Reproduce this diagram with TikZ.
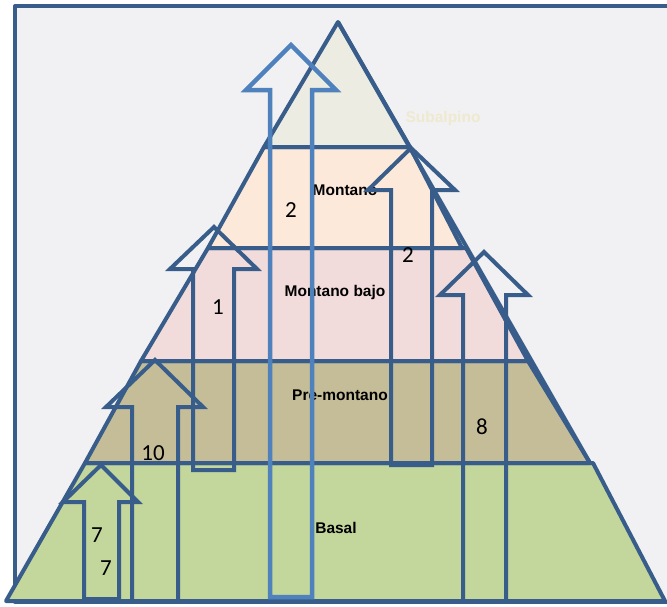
\documentclass[tikz,border=0pt]{standalone}
\usepackage{fontspec}
\setmainfont{Liberation Sans}
\newfontfamily\calibrifont{Carlito}
\usepackage{tikz}
\definecolor{pyrblue}{RGB}{56,93,138}
\definecolor{skyblue}{RGB}{79,129,189}
\definecolor{framebg}{RGB}{241,241,243}
\definecolor{subalpfill}{RGB}{236,236,226}
\definecolor{montfill}{RGB}{253,233,217}
\definecolor{bajofill}{RGB}{242,220,219}
\definecolor{premfill}{RGB}{196,189,151}
\definecolor{basalfill}{RGB}{195,214,155}
\definecolor{faintyellow}{RGB}{238,233,207}

\begin{document}
\begin{tikzpicture}[
    x=1pt, y=-1pt,
    layer/.style={draw=pyrblue, line width=4pt, line join=round},
    blockarrow/.style={draw=pyrblue, line width=4pt},
    tallarrow/.style={draw=skyblue, line width=4.5pt},
    zone/.style={font=\fontsize{15.5}{18}\selectfont\bfseries, inner sep=0pt},
    num/.style={font=\calibrifont\fontsize{23}{25}\selectfont, inner sep=0pt}
]
    \useasboundingbox (0,0) rectangle (667,606);
    \clip (0,0) rectangle (667,606);
    % frame
    \draw[layer, fill=framebg] (15,6) rectangle (700,602);

    % pyramid layers
    \draw[layer, fill=basalfill] (85,463) -- (593,463) -- (665,601) -- (6,601) -- cycle;
    \draw[layer, fill=premfill] (141,361) -- (528,361) -- (590,463) -- (85,463) -- cycle;
    \draw[layer, fill=bajofill] (208,248) -- (466,248) -- (528,361) -- (141,361) -- cycle;
    \draw[layer, fill=montfill] (264,147) -- (410,147) -- (462,248) -- (208,248) -- cycle;
    \draw[layer, fill=subalpfill] (338,22) -- (264,147) -- (410,147) -- cycle;
    \draw[layer] (338,22) -- (590,463);

    % zone names
    \node[zone, text=faintyellow] (subalpino) at (443,118) {Subalpino};
    \node[zone] (montano) at (345,190) {Montano};
    \node[zone] (bajo) at (335,292) {Montano bajo};
    \node[zone] (premontano) at (340,395) {Pre-montano};
    \node[zone] (basal) at (336,528) {Basal};

    % counts
    \node[num] (nA) at (291,210) {2};
    \node[num] (nB) at (408,255) {2};
    \node[num] (nC) at (218,307) {1};
    \node[num] (nD) at (482,427) {8};
    \node[num] (nE) at (153,453) {10};
    \node[num] (nF) at (97,535) {7};
    \node[num] (nG) at (106,568) {7};

    % shifts
    \draw[tallarrow] (270,597) -- (270,90) -- (246,90) -- (291,45) -- (336,90) -- (312,90) -- (312,597) -- cycle;
    \draw[blockarrow] (391,465) -- (391,190) -- (368,190) -- (411,148) -- (455,190) -- (432,190) -- (432,465) -- cycle;
    \draw[blockarrow] (193,470) -- (193,269) -- (170,269) -- (214,227) -- (257,269) -- (234,269) -- (234,470) -- cycle;
    \draw[blockarrow] (463,601) -- (463,295) -- (440,295) -- (484,252) -- (528,295) -- (506,295) -- (506,601) -- cycle;
    \draw[blockarrow] (132,601) -- (132,407) -- (106,407) -- (155,360) -- (203,407) -- (178,407) -- (178,601) -- cycle;
    \draw[blockarrow] (84,599) -- (84,502) -- (63,502) -- (101,465) -- (138,502) -- (119,502) -- (119,599) -- cycle;
\end{tikzpicture}
\end{document}
